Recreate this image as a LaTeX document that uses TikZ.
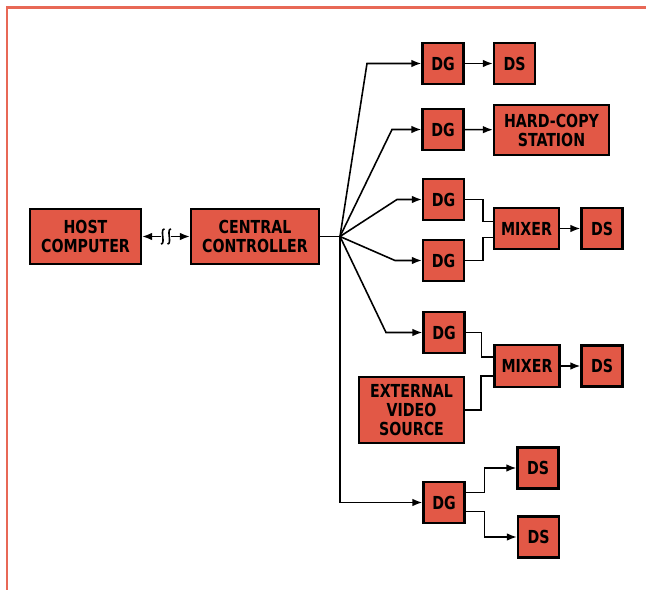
\documentclass[tikz,border=0pt]{standalone}
\usepackage{fontspec}
\setmainfont{DejaVu Sans Condensed}[FakeStretch=0.88]
\usepackage{tikz}
\usetikzlibrary{arrows.meta, calc, positioning}
\definecolor{boxred}{RGB}{226,88,70}
\definecolor{framered}{RGB}{232,104,86}

\begin{document}
\begin{tikzpicture}[x=0.02cm, y=-0.02cm,
    blk/.style={draw, line width=1.2pt, fill=boxred, inner sep=0pt, align=center,
        font=\fontsize{10.2}{10.8}\selectfont\bfseries},
    sq/.style={blk, minimum width=0.82cm, minimum height=0.82cm},
    wire/.style={line width=0.9pt},
    arr/.style={wire, -{Latex[length=2mm,width=1.5mm]}}]
                \useasboundingbox (0,0) rectangle (646,590);
                \draw[framered, line width=1.7pt] (7,600) -- (7,8) -- (660,8);
                % host side
                \node[blk, minimum width=2.22cm, minimum height=1.1cm] (host) at (85.5,236.5) {HOST\\COMPUTER};
                \node[blk, minimum width=2.56cm, minimum height=1.1cm] (cc) at (255,236.5) {CENTRAL\\CONTROLLER};
                \coordinate (brkL) at (161,236.5);
                \coordinate (brkR) at (171,236.5);
                \draw[arr] (brkL) -- (host.east);
                \draw[arr] (brkR) -- (cc.west);
                \draw[wire] (161,244) .. controls (166,244) and (159.5,229) .. (164.5,229);
                \draw[wire] (167.5,244) .. controls (172.5,244) and (166,229) .. (171,229);
                \coordinate (hub) at (340,236.5);
                \draw[wire] (cc.east) -- (hub);
                % generators and displays
                \node[sq] (dg1) at (443,63.5) {DG};
                \node[sq] (ds1) at (514.5,63.5) {DS};
                \node[sq] (dg2) at (443,129.5) {DG};
                \node[blk, minimum width=2.3cm, minimum height=1cm] (hcs) at (551.5,130) {HARD-COPY\\STATION};
                \node[sq] (dg3) at (443.5,199.5) {DG};
                \node[sq] (dg4) at (443.5,260.5) {DG};
                \node[blk, minimum width=1.3cm, minimum height=0.82cm] (mix1) at (526.5,228.5) {MIXER};
                \node[sq] (ds3) at (602,228.5) {DS};
                \node[sq] (dg5) at (444,332.5) {DG};
                \node[blk, minimum width=1.3cm, minimum height=0.84cm] (mix2) at (527,366) {MIXER};
                \node[sq] (ds4) at (602,366) {DS};
                \node[blk, minimum width=2.1cm, minimum height=1.32cm] (evs) at (411.5,410) {EXTERNAL\\VIDEO\\SOURCE};
                \node[sq] (dg6) at (444,502.5) {DG};
                \node[sq] (ds5) at (538,468) {DS};
                \node[sq] (ds6) at (538.5,537) {DS};
                % fan out from the controller
                \draw[arr] (hub) -- (367,63.5) -- (dg1.west);
                \draw[arr] (hub) -- (392,129.5) -- (dg2.west);
                \draw[arr] (hub) -- (397,199.5) -- (dg3.west);
                \draw[arr] (hub) -- (395,260.5) -- (dg4.west);
                \draw[arr] (hub) -- (386,332.5) -- (dg5.west);
                \draw[arr] (hub) |- (dg6.west);
                \draw[arr] (dg1) -- (ds1);
                \draw[arr] (dg2) -- (hcs);
                % into the mixers
                \draw[wire] (dg3.east) -- ++(18,0) |- ($(mix1.west)+(0,-7)$);
                \draw[wire] (dg4.east) -- ++(18,0) |- ($(mix1.west)+(0,9)$);
                \draw[arr] (mix1) -- (ds3);
                \draw[wire] (dg5.east) -- ++(16,0) |- ($(mix2.west)+(0,-9)$);
                \draw[wire] (evs.east) -- ++(16,0) |- ($(mix2.west)+(0,10)$);
                \draw[arr] (mix2) -- (ds4);
                \draw[arr] ($(dg6.east)+(0,-10)$) -- ++(19,0) |- (ds5.west);
                \draw[arr] ($(dg6.east)+(0,9)$) -- ++(19,0) |- (ds6.west);
            \end{tikzpicture}
\end{document}
